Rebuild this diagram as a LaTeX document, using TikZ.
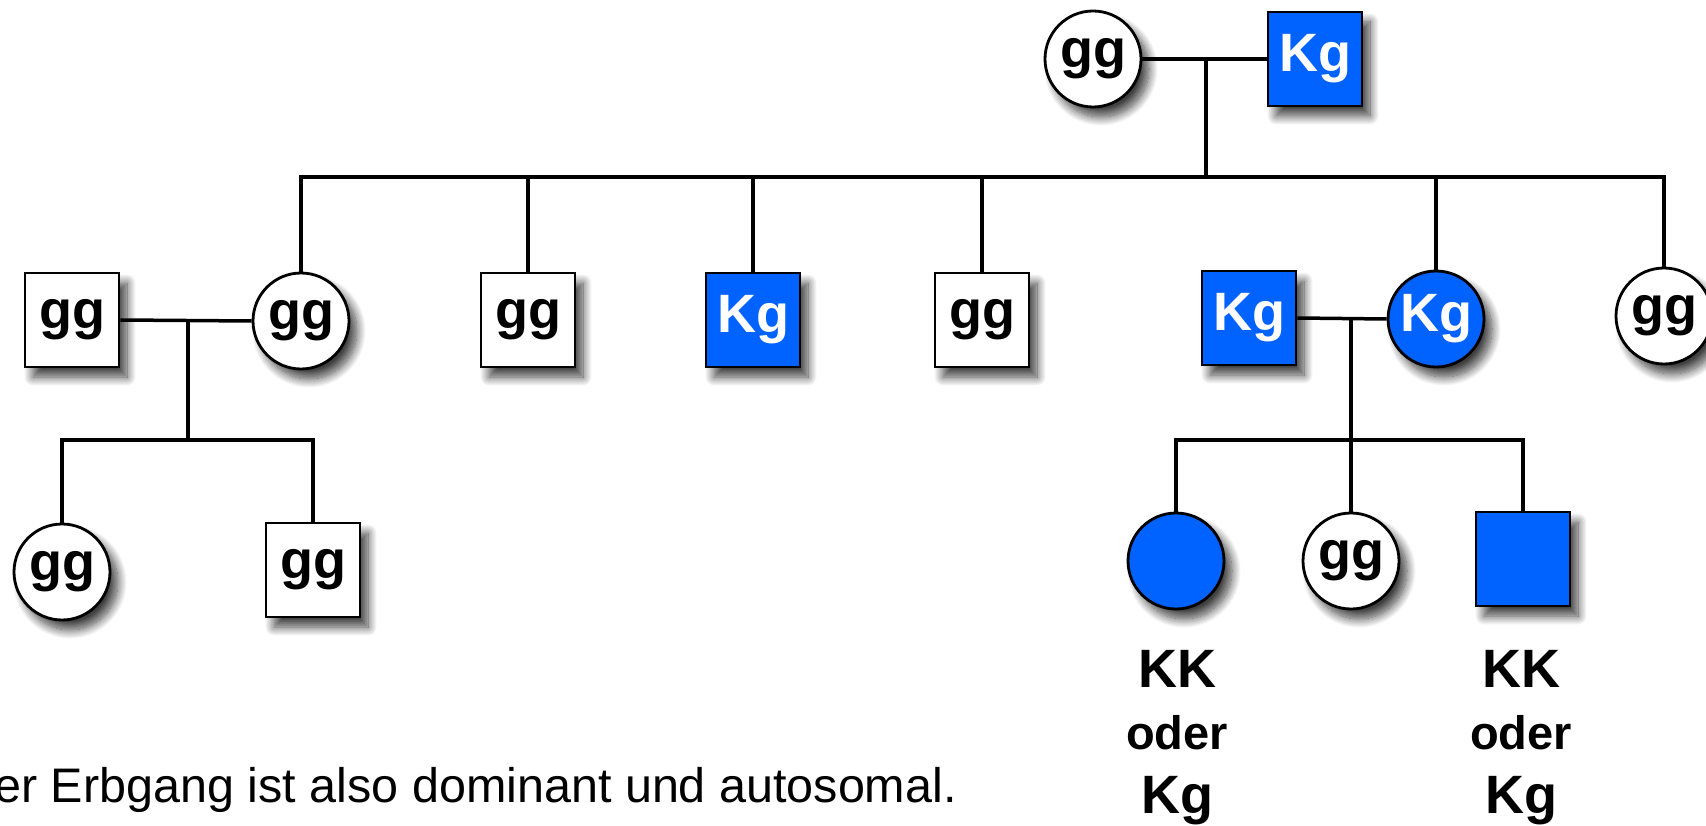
\documentclass[tikz,border=0pt]{standalone}
\usepackage{fontspec}
\setmainfont{Liberation Sans}
\usetikzlibrary{shadows.blur}
\definecolor{aff}{RGB}{0,98,255}
\begin{document}
\begin{tikzpicture}[x=1pt,y=-1pt,
  indiv/.style={draw=black, line width=2.8pt, inner sep=0pt,
    font=\fontsize{54}{60}\selectfont\bfseries,
    blur shadow={shadow xshift=8pt, shadow yshift=-10pt, shadow blur radius=9pt, shadow blur steps=14, shadow opacity=75}},
  male/.style={indiv, rectangle, minimum size=94pt},
  female/.style={indiv, circle, minimum size=96pt},
  healthy/.style={fill=white, text=black},
  ill/.style={fill=aff, text=white},
  link/.style={line width=3.5pt, black},
  lbl/.style={font=\fontsize{54}{60}\selectfont\bfseries, anchor=base, inner sep=0pt},
  lblsmall/.style={font=\fontsize{47}{52}\selectfont\bfseries, anchor=base, inner sep=0pt},
]
\useasboundingbox (0,0) rectangle (1706,826);
\clip (0,0) rectangle (1706,826);

% generation I
\node[female, healthy] (gg0) at (1093,59) {gg};
\node[male, ill] (Kg0) at (1315,59) {Kg};

% generation II
\node[male, healthy] (a1) at (72,320) {gg};
\node[female, healthy] (a2) at (301,321) {gg};
\node[male, healthy] (a3) at (528,320) {gg};
\node[male, ill] (a4) at (753,320) {Kg};
\node[male, healthy] (a5) at (982,320) {gg};
\node[male, ill] (b1) at (1249,318) {Kg};
\node[female, ill] (b2) at (1436,319) {Kg};
\node[female, healthy] (a6) at (1664,316) {gg};

% generation III left
\node[female, healthy] (c1) at (62,572) {gg};
\node[male, healthy] (c2) at (313,570) {gg};

% generation III right
\node[female, ill] (d1) at (1176,561) {};
\node[female, healthy] (d2) at (1351,561) {gg};
\node[male, ill] (d3) at (1523,559) {};

% connectors
\coordinate (m0) at (1206,59);
\coordinate (s0) at (1206,177);
\draw[link] (gg0.east) -- (Kg0.west);
\draw[link] (m0) -- (s0);
\draw[link] (a2.north) |- (s0) -| (a6.north);
\foreach \n in {a3,a4,a5,b2}{\draw[link] (\n.north) -- (\n.north |- s0);}

\coordinate (m1) at (188,321);
\coordinate (k1) at (188,440);
\draw[link] (a1.east) -- (a2.west);
\draw[link] (m1) -- (k1);
\draw[link] (c1.north) |- (k1) -| (c2.north);

\coordinate (m2) at (1351,319);
\coordinate (k2) at (1351,440);
\draw[link] (b1.east) -- (b2.west);
\draw[link] (m2) -- (k2);
\draw[link] (d1.north) |- (k2) -| (d3.north);
\draw[link] (d2.north) -- (d2.north |- k2);

% genotype labels
\node[lbl] (l1a) at (1177,687) {KK};
\node[lblsmall] (l1b) at (1177,749) {oder};
\node[lbl] (l1c) at (1177,813) {Kg};
\node[lbl] (l2a) at (1521,687) {KK};
\node[lblsmall] (l2b) at (1521,749) {oder};
\node[lbl] (l2c) at (1521,813) {Kg};

% conclusion
\node[anchor=base east, inner sep=0pt, font=\fontsize{48.5}{56}\selectfont] (concl) at (957,802) {Der Erbgang ist also dominant und autosomal.};
\end{tikzpicture}
\end{document}
